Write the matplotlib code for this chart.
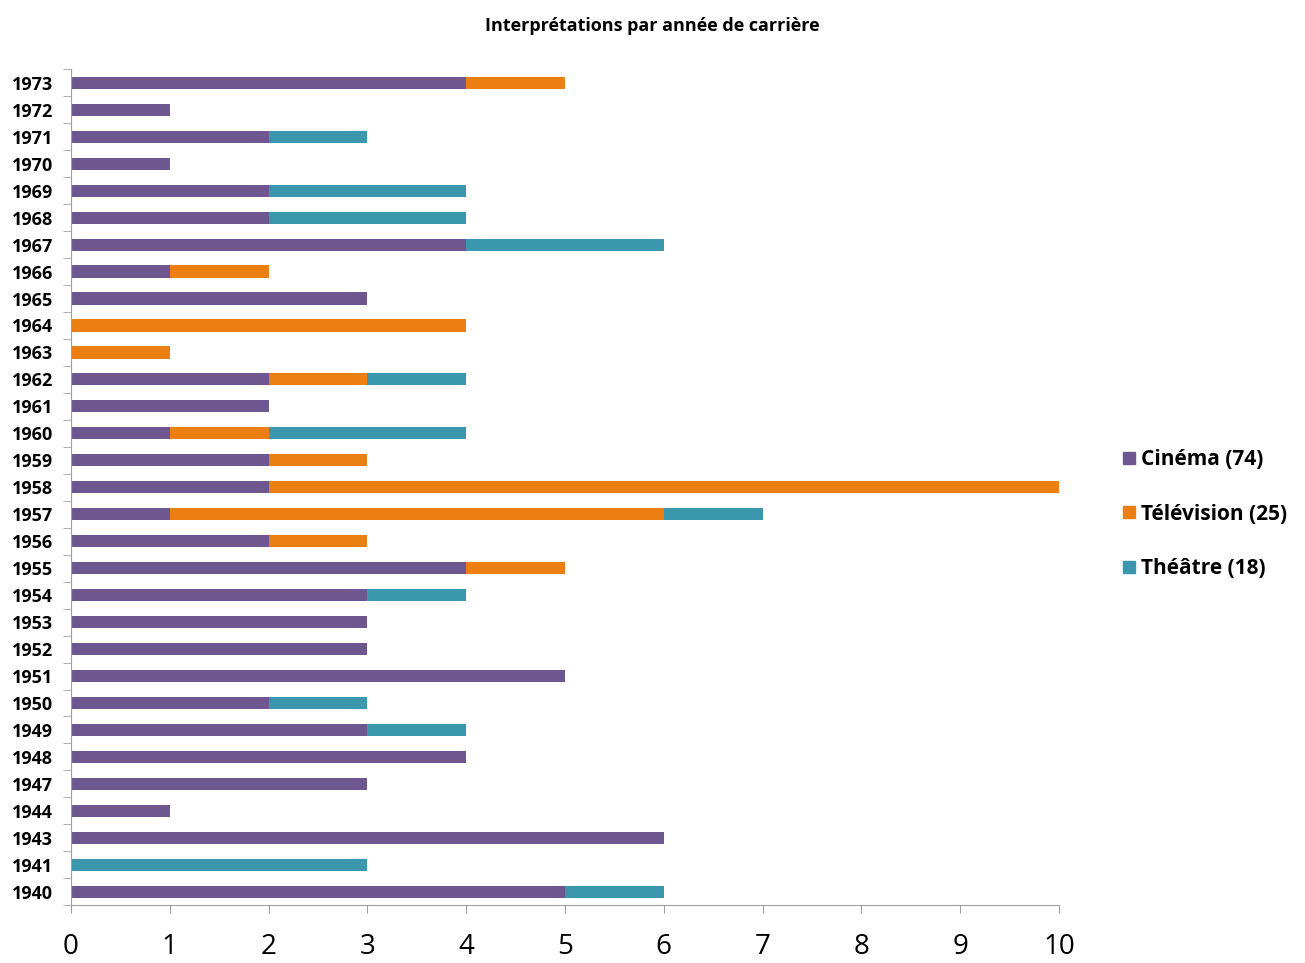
import matplotlib.pyplot as plt
import numpy as np
from matplotlib.lines import Line2D

years = ["1940", "1941", "1943", "1944", "1947", "1948", "1949", "1950", "1951",
         "1952", "1953", "1954", "1955", "1956", "1957", "1958", "1959", "1960",
         "1961", "1962", "1963", "1964", "1965", "1966", "1967", "1968", "1969",
         "1970", "1971", "1972", "1973"]
cinema = [5, 0, 6, 1, 3, 4, 3, 2, 5, 3, 3, 3, 4, 2, 1, 2, 2, 1, 2, 2, 0, 0, 3, 1, 4, 2, 2, 1, 2, 1, 4]
television = [0, 0, 0, 0, 0, 0, 0, 0, 0, 0, 0, 0, 1, 1, 5, 8, 1, 1, 0, 1, 1, 4, 0, 1, 0, 0, 0, 0, 0, 0, 1]
theatre = [1, 3, 0, 0, 0, 0, 1, 1, 0, 0, 0, 1, 0, 0, 1, 0, 0, 2, 0, 1, 0, 0, 0, 0, 2, 2, 2, 0, 1, 0, 0]
series_names = ["Cinéma (74)", "Télévision (25)", "Théâtre (18)"]
colors = ["#6E5690", "#EC7F12", "#3A97AD"]

plt.rcParams['font.family'] = ['Open Sans', 'DejaVu Sans']

fig = plt.figure(figsize=(13.05, 9.63), dpi=100)
ax = fig.add_axes([0.0544, 0.06, 0.757, 0.868])

y = np.arange(len(years))
c = np.array(cinema)
t = np.array(television)
th = np.array(theatre)
h = 0.45
ax.barh(y, c, height=h, color=colors[0])
ax.barh(y, t, left=c, height=h, color=colors[1])
ax.barh(y, th, left=c + t, height=h, color=colors[2])

ax.set_xlim(0, 10)
ax.set_ylim(-0.5, len(years) - 0.5)
ax.set_xticks(range(11))
ax.set_xticklabels([str(i) for i in range(11)], fontsize=20)
ax.set_yticks(y)
ax.set_yticklabels(years, fontsize=13, fontweight='bold')
ax.set_yticks(np.arange(-0.5, len(years)), minor=True)
ax.tick_params(axis='y', which='major', length=0, pad=13)
ax.tick_params(axis='y', which='minor', length=6, color='#A0A0A0')
ax.tick_params(axis='x', length=6, color='#A0A0A0', pad=14)

for s in ['top', 'right']:
    ax.spines[s].set_visible(False)
for s in ['left', 'bottom']:
    ax.spines[s].set_color('#A0A0A0')

fig.text(0.5, 0.973, "Interprétations par année de carrière", ha='center', va='center',
         fontsize=13, fontweight='bold')

handles = [Line2D([], [], marker='s', linestyle='', color=col, markersize=9) for col in colors]
fig.legend(handles, series_names, loc='center left', bbox_to_anchor=(0.843, 0.466),
           frameon=False, prop={'size': 15, 'weight': 'bold'}, handletextpad=0.05,
           labelspacing=1.6, handlelength=1.0)

fig.savefig("out.png", dpi=100)
